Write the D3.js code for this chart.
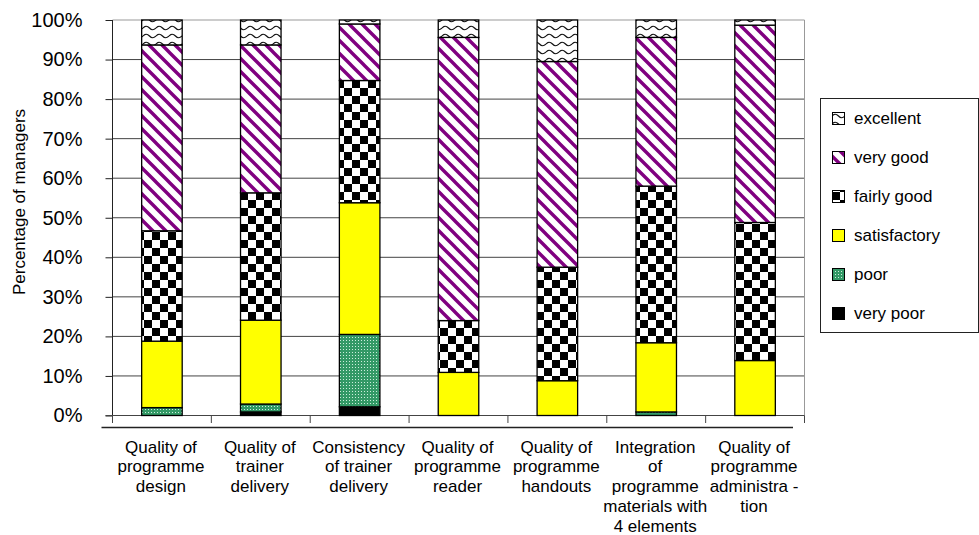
<!DOCTYPE html>
<html>
<head>
<meta charset="utf-8">
<script src="https://cdn.jsdelivr.net/npm/d3@7/dist/d3.min.js"></script>
<style>
  html, body { margin: 0; padding: 0; background: #fff; }
  svg { display: block; font-family: "Liberation Sans", Arial, sans-serif; }
</style>
</head>
<body>
<svg id="chart" width="979" height="535"></svg>
<script>
// Training programme ratings by managers (percent of respondents)
const categories = [
  "Quality of programme design",
  "Quality of trainer delivery",
  "Consistency of trainer delivery",
  "Quality of programme reader",
  "Quality of programme handouts",
  "Integration of programme materials with 4 elements",
  "Quality of programme administration"
];
const categoryLines = [
  ["Quality of", "programme", "design"],
  ["Quality of", "trainer", "delivery"],
  ["Consistency", "of trainer", "delivery"],
  ["Quality of", "programme", "reader"],
  ["Quality of", "programme", "handouts"],
  ["Integration", "of", "programme", "materials with", "4 elements"],
  ["Quality of", "programme", "administra -", "tion"]
];
const seriesNames = ["very poor", "poor", "satisfactory", "fairly good", "very good", "excellent"];
const veryPoor     = [0.0, 0.9, 2.2, 0.0, 0.0, 0.0, 0.0];
const poor         = [2.0, 2.0, 18.3, 0.0, 0.0, 0.9, 0.0];
const satisfactory = [16.8, 21.2, 33.3, 10.9, 8.8, 17.5, 13.9];
const fairlyGood   = [27.9, 32.2, 30.9, 13.1, 28.7, 39.6, 34.9];
const veryGood     = [47.0, 37.4, 14.3, 71.6, 52.0, 37.6, 49.9];
const excellent    = [6.3, 6.3, 1.0, 4.4, 10.5, 4.4, 1.3];
const yTicks = [0, 10, 20, 30, 40, 50, 60, 70, 80, 90, 100];

const seriesValues = [veryPoor, poor, satisfactory, fairlyGood, veryGood, excellent];
const rows = categories.map((c, i) => {
  const r = { category: c };
  seriesNames.forEach((s, k) => { r[s] = seriesValues[k][i]; });
  return r;
});

const svg = d3.select("#chart");
const plotLeft = 112.5, plotRight = 804.5, plotTop = 20, plotBottom = 415.5;

const x = d3.scaleBand().domain(categories).range([plotLeft, plotRight])
  .paddingInner(0.59).paddingOuter(0.295);
const y = d3.scaleLinear().domain([0, 100]).range([plotBottom, plotTop]);

// ---- fill patterns ----
const defs = svg.append("defs");

// excellent: wavy lines
const pW = defs.append("pattern").attr("id", "pat-excellent")
  .attr("patternUnits", "userSpaceOnUse").attr("width", 13).attr("height", 8);
pW.append("rect").attr("width", 13).attr("height", 8).attr("fill", "#fff");
pW.append("path").attr("d", "M0,4 Q3.25,0.5 6.5,4 Q9.75,7.5 13,4")
  .attr("fill", "none").attr("stroke", "#111").attr("stroke-width", 1.2);

// very good: purple downward diagonal stripes
const st = 13;
const pS = defs.append("pattern").attr("id", "pat-verygood")
  .attr("patternUnits", "userSpaceOnUse").attr("width", st).attr("height", st);
pS.append("rect").attr("width", st).attr("height", st).attr("fill", "#fff");
pS.append("path")
  .attr("d", `M-2,-2 L${st + 2},${st + 2} M${st - 3},-3 L${st + 3},3 M-3,${st - 3} L3,${st + 3}`)
  .attr("stroke", "#800080").attr("stroke-width", 3.4).attr("fill", "none");

// fairly good: checkerboard
const pC = defs.append("pattern").attr("id", "pat-fairlygood")
  .attr("patternUnits", "userSpaceOnUse").attr("width", 16).attr("height", 16);
pC.append("rect").attr("width", 16).attr("height", 16).attr("fill", "#fff");
pC.append("rect").attr("width", 8).attr("height", 8).attr("fill", "#000");
pC.append("rect").attr("x", 8).attr("y", 8).attr("width", 8).attr("height", 8).attr("fill", "#000");

// poor: green with light dots
const pP = defs.append("pattern").attr("id", "pat-poor")
  .attr("patternUnits", "userSpaceOnUse").attr("width", 3).attr("height", 3);
pP.append("rect").attr("width", 3).attr("height", 3).attr("fill", "#339966");
pP.append("rect").attr("x", 1).attr("y", 1).attr("width", 1).attr("height", 1).attr("fill", "#cdeedd");

const fills = {
  "very poor": "#000000",
  "poor": "url(#pat-poor)",
  "satisfactory": "#ffff00",
  "fairly good": "url(#pat-fairlygood)",
  "very good": "url(#pat-verygood)",
  "excellent": "url(#pat-excellent)"
};

// ---- gridlines ----
svg.append("g").selectAll("line").data(yTicks.filter(t => t > 0)).join("line")
  .attr("x1", plotLeft).attr("x2", plotRight)
  .attr("y1", d => y(d)).attr("y2", d => y(d))
  .attr("stroke", d => d === 100 ? "#999" : "#444").attr("stroke-width", 1);
svg.append("line").attr("x1", plotRight).attr("x2", plotRight).attr("y1", plotTop).attr("y2", plotBottom)
  .attr("stroke", "#999");

// ---- y axis ----
const yAxis = svg.append("g").attr("transform", `translate(${plotLeft},0)`)
  .call(d3.axisLeft(y).tickValues(yTicks).tickFormat(d => d + "%").tickSize(7).tickPadding(23));
yAxis.select(".domain").remove();
yAxis.selectAll(".tick line").attr("stroke", "#222");
yAxis.selectAll(".tick text").attr("font-size", 20).attr("fill", "#000")
  .attr("font-family", "'Liberation Sans', Arial, sans-serif");
svg.append("line").attr("x1", plotLeft).attr("x2", plotLeft).attr("y1", plotTop).attr("y2", plotBottom + 7.5)
  .attr("stroke", "#222");

// ---- x axis line, ticks at category boundaries ----
svg.append("line").attr("x1", plotLeft - 7).attr("x2", plotRight).attr("y1", plotBottom).attr("y2", plotBottom)
  .attr("stroke", "#444");
const bounds = d3.range(categories.length + 1).map(i => plotLeft + i * x.step());
svg.append("g").selectAll("line").data(bounds).join("line")
  .attr("x1", d => d).attr("x2", d => d).attr("y1", plotBottom).attr("y2", plotBottom + 7.5)
  .attr("stroke", "#444");
svg.append("line").attr("x1", 101.5).attr("x2", 793).attr("y1", 427.5).attr("y2", 427.5)
  .attr("stroke", "#222").attr("stroke-width", 1.4);

// ---- stacked bars ----
const stacked = d3.stack().keys(seriesNames)(rows);
const layers = svg.append("g").selectAll("g").data(stacked).join("g")
  .attr("fill", d => fills[d.key]);
layers.selectAll("rect").data(d => d.filter(p => p[1] - p[0] > 0)).join("rect")
  .attr("x", d => x(d.data.category))
  .attr("width", x.bandwidth())
  .attr("y", d => y(d[1]))
  .attr("height", d => y(d[0]) - y(d[1]))
  .attr("stroke", "#000").attr("stroke-width", 1.3);

// ---- category labels ----
const labels = svg.append("g").attr("font-size", 17).attr("text-anchor", "middle");
categories.forEach((c, i) => {
  const cx = x(c) + x.bandwidth() / 2 - 1;
  const t = labels.append("text").attr("x", cx).attr("y", 452.5);
  categoryLines[i].forEach((ln, j) => {
    t.append("tspan").attr("x", cx).attr("dy", j === 0 ? 0 : 19.8).text(ln);
  });
});

// ---- y title ----
svg.append("text").attr("transform", "translate(25,202) rotate(-90)")
  .attr("text-anchor", "middle").attr("font-size", 17).text("Percentage of managers");

// ---- legend ----
const lg = svg.append("g");
lg.append("rect").attr("x", 820.5).attr("y", 98.5).attr("width", 158).attr("height", 234)
  .attr("fill", "#fff").attr("stroke", "#222");
const legendOrder = seriesNames.slice().reverse();
legendOrder.forEach((k, i) => {
  const cy = 118 + 39 * i;
  lg.append("rect").attr("x", 832.5).attr("y", cy - 5.5).attr("width", 12).attr("height", 12)
    .attr("fill", fills[k]).attr("stroke", "#000").attr("stroke-width", 1);
  lg.append("text").attr("x", 854).attr("y", cy + 6).attr("font-size", 17).text(k);
});
</script>
</body>
</html>
